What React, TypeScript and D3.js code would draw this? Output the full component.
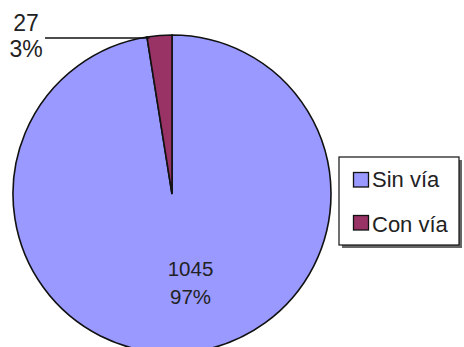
import React from "react";
import * as d3 from "d3";

const categories = ["Sin vía", "Con vía"];
const values = [1045, 27];
const percentLabels = ["97%", "3%"];
const colors = ["#9999FF", "#993366"];

const W = 464;
const H = 347;

export default function App() {
  const cx = 172;
  const cy = 194;
  const r = 159;
  const data = categories.map((c, i) => ({ c, v: values[i], p: percentLabels[i], col: colors[i] }));
  const pie = d3.pie<any>().value((d) => d.v).sort(null).startAngle(0).endAngle(2 * Math.PI);
  const arcs = pie(data);
  const arc = d3.arc<any>().innerRadius(0).outerRadius(r);
  const small = arcs[1];
  const mid = (small.startAngle + small.endAngle) / 2;
  const edgeX = cx + r * Math.sin(mid);
  const font = "'Liberation Sans', Arial, sans-serif";
  return (
    <svg width={W} height={H} style={{ position: "absolute", left: 0, top: 0, background: "#fff" }}>
      <g transform={`translate(${cx},${cy})`}>
        {arcs.map((a, i) => (
          <path key={i} d={arc(a) || ""} fill={data[i].col} stroke="#111" strokeWidth={1.6} />
        ))}
      </g>
      <line x1={45} y1={38} x2={edgeX - 10} y2={38} stroke="#111" strokeWidth={1.4} />
      <g fontFamily={font} fill="#222" textAnchor="middle">
        <text x={26} y={31} fontSize={23}>{values[1]}</text>
        <text x={26} y={57} fontSize={23}>{percentLabels[1]}</text>
        <text x={190.5} y={276} fontSize={20.5}>{values[0]}</text>
        <text x={190.5} y={304} fontSize={20.5}>{percentLabels[0]}</text>
      </g>
      <rect x={342} y={160} width={120} height={88} fill="#666" />
      <rect x={339} y={157} width={120} height={88} fill="#fff" stroke="#111" strokeWidth={1.2} />
      {data.map((d, i) => (
        <g key={i} fontFamily={font} fontSize={22} fill="#222">
          <rect x={353.5} y={172.5 + i * 43} width={15} height={14.5} fill={d.col} stroke="#111" strokeWidth={1.3} />
          <text x={372} y={186.5 + i * 45}>{d.c}</text>
        </g>
      ))}
    </svg>
  );
}
